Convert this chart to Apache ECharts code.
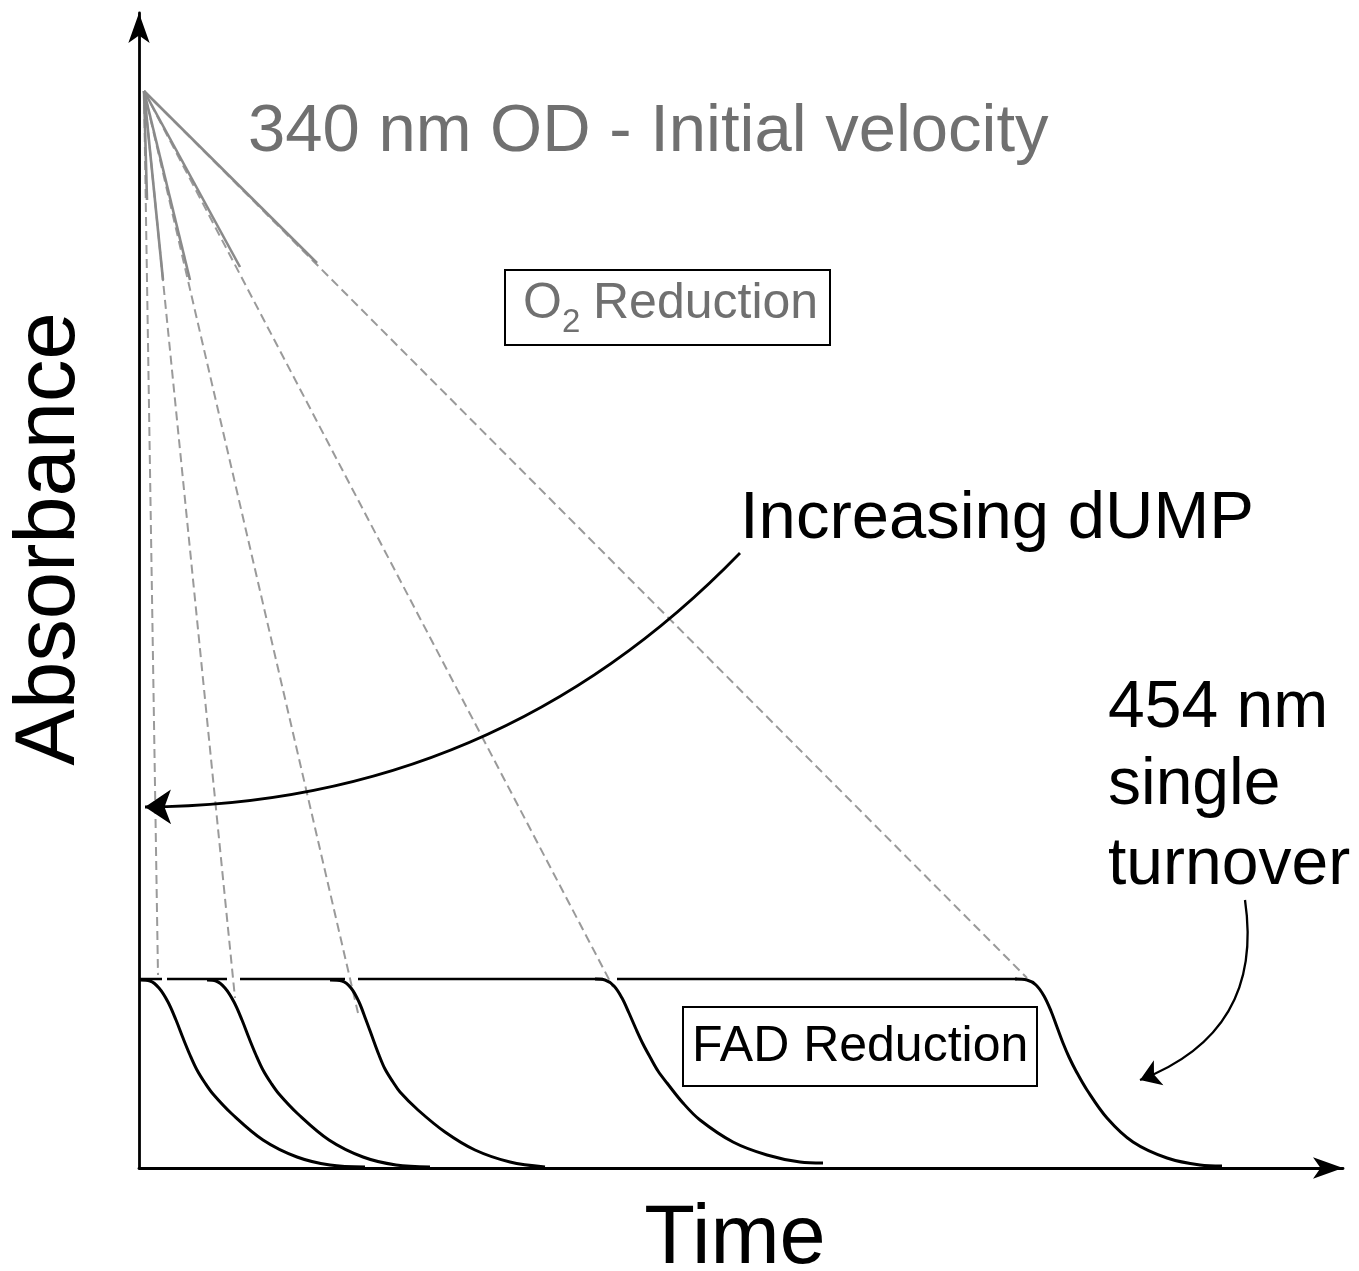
<!DOCTYPE html>
<html>
<head>
<meta charset="utf-8">
<script src="https://cdn.jsdelivr.net/npm/echarts@6/dist/echarts.min.js"></script>
<style>
html,body{margin:0;padding:0;background:#fff;}
#chart{width:1359px;height:1271px;}
</style>
</head>
<body>
<div id="chart"></div>
<script>
// ---- data (time units along x, absorbance units along y) ----
const apex = [5, 1077];
const fanEnds = [[19, 193], [96, 170], [219, 155], [474, 181], [888, 190]];
const fanBreaks = [[8, 968], [24, 888], [51, 888], [101, 901], [178, 905]];

const curve1 = [[1,188],[11,187],[20,180],[29,166],[37,148],[44,130],[51,113],[58,98],[66,85],[74,74],[93,54],[124,28],[158,11],[191,3],[226,1]];
const curve2 = [[68,188],[77,187],[86,180],[95,166],[103,148],[110,130],[117,113],[124,98],[132,85],[140,74],[159,54],[190,28],[224,11],[257,3],[291,1]];
const curve3 = [[191,188],[203,187],[212,180],[220,166],[227,148],[234,129],[240,113],[246,99],[254,86],[261,76],[279,58],[306,36],[336,18],[371,6],[406,1]];
const curve4 = [[456,189],[466,188],[475,182],[483,170],[490,155],[497,139],[504,124],[511,111],[519,97],[528,85],[544,65],[561,48],[594,26],[628,13],[661,6],[684,5]];
const curve5 = [[876,189],[888,188],[897,183],[905,172],[912,157],[918,141],[924,125],[930,111],[937,97],[948,78],[968,50],[994,26],[1028,10],[1061,3],[1083,2]];
const curves = [curve1, curve2, curve3, curve4, curve5];

const plateauLevel = 189;
const plateauSegments = [[1, 23], [28, 88], [101, 206], [219, 464], [478, 878]];

const dumpArrow = [[601, 615], [6, 361]];
const turnoverArrow = [[1106, 268], [1001, 88]];

const xMax = 1204, yMax = 1155;

// ---- build series ----
const series = [];
fanEnds.forEach((end, i) => {
  series.push({
    type: 'line', data: [apex, end], symbol: 'none', silent: true, z: 2,
    lineStyle: { color: '#9a9a9a', width: 2, type: [9, 5] }
  });
  series.push({
    type: 'line', data: [apex, fanBreaks[i]], symbol: 'none', silent: true, z: 3,
    lineStyle: { color: '#8a8a8a', width: 2.6, type: 'solid' }
  });
});
plateauSegments.forEach(seg => {
  series.push({
    type: 'line', data: [[seg[0], plateauLevel], [seg[1], plateauLevel]], symbol: 'none', silent: true, z: 4,
    lineStyle: { color: '#000', width: 2.6 }
  });
});
curves.forEach(c => {
  series.push({
    type: 'line', data: c, symbol: 'none', smooth: 0.35, silent: true, z: 5,
    lineStyle: { color: '#000', width: 3 }
  });
});
series.push({
  type: 'lines', coordinateSystem: 'cartesian2d', silent: true, z: 6,
  symbol: ['none', 'arrow'], symbolSize: [14, 26],
  lineStyle: { color: '#000', width: 2.8, curveness: 0.21, opacity: 1 },
  data: [{ coords: dumpArrow }]
});
series.push({
  type: 'lines', coordinateSystem: 'cartesian2d', silent: true, z: 6,
  symbol: ['none', 'arrow'], symbolSize: [11, 20],
  lineStyle: { color: '#000', width: 2.3, curveness: 0.4, opacity: 1 },
  data: [{ coords: turnoverArrow }]
});

const FF = 'Liberation Sans, Arial, sans-serif';
function txt(text, x, y, size, color, extra) {
  return {
    type: 'text', silent: true, z: 10,
    style: Object.assign({ text: text, x: x, y: y, font: size + 'px ' + FF, fill: color,
      textAlign: 'left', textVerticalAlign: 'middle' }, extra || {})
  };
}

const option = {
  animation: false,
  backgroundColor: '#ffffff',
  grid: { left: 139, right: 1359 - 1343, top: 13, bottom: 1271 - 1168, containLabel: false },
  xAxis: {
    type: 'value', min: 0, max: xMax,
    axisLine: { show: true, symbol: ['none', 'arrow'], symbolSize: [16, 30], lineStyle: { color: '#000', width: 2.8 } },
    axisTick: { show: false }, axisLabel: { show: false }, splitLine: { show: false }
  },
  yAxis: {
    type: 'value', min: 0, max: yMax,
    axisLine: { show: true, symbol: ['none', 'arrow'], symbolSize: [16, 30], lineStyle: { color: '#000', width: 2.8 } },
    axisTick: { show: false }, axisLabel: { show: false }, splitLine: { show: false }
  },
  series: series,
  graphic: [
    txt('340 nm OD - Initial velocity', 248, 133, 67, '#707070'),
    { type: 'rect', silent: true, z: 9, shape: { x: 505, y: 270, width: 325, height: 75 },
      style: { fill: '#fff', stroke: '#000', lineWidth: 2 } },
    txt('O', 523, 304, 50, '#707070'),
    txt('2', 562, 323, 33, '#707070'),
    txt('Reduction', 593, 304, 50, '#707070'),
    txt('Increasing dUMP', 740, 520, 67, '#000'),
    txt('454 nm', 1108, 709, 66, '#000'),
    txt('single', 1108, 786, 66, '#000'),
    txt('turnover', 1108, 866, 66, '#000'),
    { type: 'rect', silent: true, z: 9, shape: { x: 683, y: 1007, width: 354, height: 79 },
      style: { fill: '#fff', stroke: '#000', lineWidth: 2 } },
    txt('FAD Reduction', 692, 1047, 50, '#000'),
    txt('Time', 735, 1240, 83, '#000', { textAlign: 'center' }),
    { type: 'text', silent: true, z: 10, x: 51, y: 539, rotation: Math.PI / 2,
      style: { text: 'Absorbance', x: 0, y: 0, font: '85px ' + FF, fill: '#000', textAlign: 'center', textVerticalAlign: 'middle' } }
  ]
};

const chart = echarts.init(document.getElementById('chart'), null, { renderer: 'canvas' });
chart.setOption(option);
</script>
</body>
</html>
